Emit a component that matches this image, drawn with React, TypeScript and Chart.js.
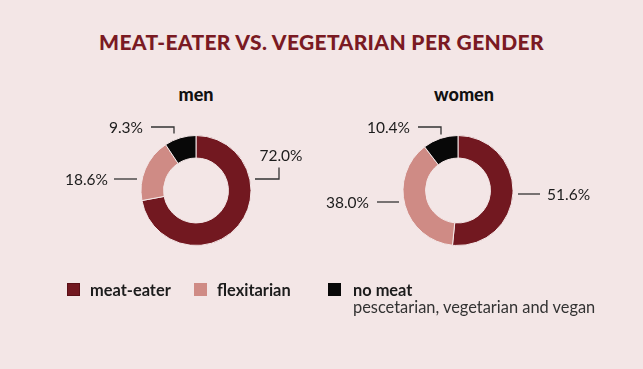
import React, { useEffect, useRef } from "react";
import { Chart, registerables } from "chart.js";

Chart.register(...registerables);

const categories = ["meat-eater", "flexitarian", "no meat"];
const menValues = [72.0, 18.6, 9.3];
const womenValues = [51.6, 38.0, 10.4];
const colors = ["#721820", "#cf8b85", "#080808"];
const BG = "#f3e6e6";
const FONT = "Lato, 'Open Sans', sans-serif";

// label layout (relative to donut centre): text anchor + leader polyline
type LabelLayout = { tx: number; ty: number; align: CanvasTextAlign; line: [number, number][] };
const menLabels: LabelLayout[] = [
  { tx: 85, ty: -35, align: "center", line: [[59, -11.5], [83, -11.5], [83, -23]] },
  { tx: -88, ty: -11, align: "right", line: [[-82, -11.5], [-59, -11.5]] },
  { tx: -53, ty: -63, align: "right", line: [[-45, -63.5], [-22, -63.5], [-22, -57]] },
];
const womenLabels: LabelLayout[] = [
  { tx: 89, ty: 4, align: "left", line: [[60, 3.5], [82, 3.5]] },
  { tx: -89, ty: 12, align: "right", line: [[-81, 11.5], [-59, 11.5]] },
  { tx: -48, ty: -63, align: "right", line: [[-40, -63.5], [-17, -63.5], [-17, -56]] },
];

function makeLabelPlugin(values: number[], layout: LabelLayout[]) {
  return {
    id: "leaderLabels",
    afterDraw(chart: any) {
      const meta = chart.getDatasetMeta(0);
      const arc = meta.data[0];
      if (!arc) return;
      const cx = arc.x;
      const cy = arc.y;
      const ctx = chart.ctx;
      ctx.save();
      ctx.strokeStyle = "#333333";
      ctx.lineWidth = 1.3;
      ctx.fillStyle = "#1c1c1c";
      ctx.font = `15.5px ${FONT}`;
      ctx.textBaseline = "middle";
      values.forEach((v, i) => {
        const l = layout[i];
        ctx.beginPath();
        l.line.forEach(([x, y], k) => {
          if (k === 0) ctx.moveTo(cx + x, cy + y);
          else ctx.lineTo(cx + x, cy + y);
        });
        ctx.stroke();
        ctx.textAlign = l.align;
        ctx.fillText(v.toFixed(1) + "%", cx + l.tx, cy + l.ty);
      });
      ctx.restore();
    },
  };
}

function Donut({ values, layout, left, width }: { values: number[]; layout: LabelLayout[]; left: number; width: number }) {
  const ref = useRef<HTMLCanvasElement | null>(null);
  useEffect(() => {
    if (!ref.current) return;
    const chart = new Chart(ref.current, {
      type: "doughnut",
      data: {
        labels: categories,
        datasets: [
          {
            data: values,
            backgroundColor: colors,
            borderColor: BG,
            borderWidth: 1,
          },
        ],
      },
      options: {
        responsive: false,
        animation: false,
        radius: 55,
        cutout: "59%",
        plugins: { legend: { display: false }, tooltip: { enabled: false }, title: { display: false } },
        layout: { padding: 0 },
      },
      plugins: [makeLabelPlugin(values, layout)],
    });
    return () => chart.destroy();
  }, []);
  return (
    <canvas
      ref={ref}
      width={width}
      height={181}
      style={{ position: "absolute", left, top: 100, width, height: 181 }}
    />
  );
}

const legendText: React.CSSProperties = {
  position: "absolute",
  fontFamily: FONT,
  fontSize: 16.4,
  fontWeight: 700,
  color: "#1c1c1c",
  lineHeight: "18px",
  whiteSpace: "nowrap",
};

export default function App() {
  return (
    <div
      style={{
        position: "fixed",
        left: 0,
        top: 0,
        width: 643,
        height: 369,
        background: BG,
        overflow: "hidden",
        fontFamily: FONT,
      }}
    >
      <div
        style={{
          position: "absolute",
          left: 0,
          width: 643,
          top: 29,
          textAlign: "center",
          fontSize: 21,
          fontWeight: 900,
          letterSpacing: 0.35,
          color: "#7a1a23",
          lineHeight: "26px",
          whiteSpace: "nowrap",
        }}
      >
        MEAT-EATER VS. VEGETARIAN PER GENDER
      </div>
      <div style={{ position: "absolute", left: 146, width: 100, top: 83, textAlign: "center", fontSize: 18, fontWeight: 900, lineHeight: "22px", color: "#111" }}>
        men
      </div>
      <div style={{ position: "absolute", left: 414, width: 100, top: 83, textAlign: "center", fontSize: 18, fontWeight: 900, lineHeight: "22px", color: "#111" }}>
        women
      </div>
      <Donut values={menValues} layout={menLabels} left={36} width={320} />
      <Donut values={womenValues} layout={womenLabels} left={308} width={300} />

      <div style={{ position: "absolute", left: 67, top: 283, width: 13, height: 13, background: colors[0], boxShadow: "inset 0 0 0 1px #5a0f16" }} />
      <div style={{ ...legendText, left: 90, top: 281 }}>{categories[0]}</div>
      <div style={{ position: "absolute", left: 194, top: 283, width: 13, height: 13, background: colors[1] }} />
      <div style={{ ...legendText, left: 217, top: 281 }}>{categories[1]}</div>
      <div style={{ position: "absolute", left: 328, top: 283, width: 13, height: 13, background: colors[2] }} />
      <div style={{ ...legendText, left: 353, top: 281 }}>{categories[2]}</div>
      <div style={{ ...legendText, left: 353, top: 298, fontWeight: 400, color: "#333" }}>
        pescetarian, vegetarian and vegan
      </div>
    </div>
  );
}
